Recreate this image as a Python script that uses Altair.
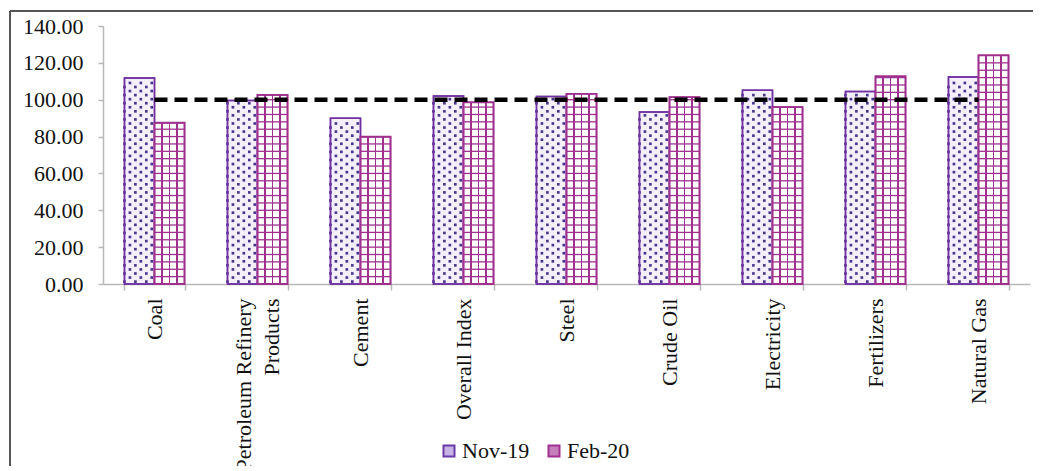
import altair as alt
import pandas as pd

categories = ["Coal", "Petroleum Refinery Products", "Cement", "Overall Index", "Steel",
              "Crude Oil", "Electricity", "Fertilizers", "Natural Gas"]
nov19 = [111.8, 99.6, 89.9, 102.0, 101.8, 93.4, 105.2, 104.4, 112.3]
feb20 = [87.5, 102.6, 79.9, 98.6, 103.2, 101.4, 96.0, 112.7, 124.1]
series = ["Nov-19", "Feb-20"]
reference = [100] * len(categories)
y_ticks = [0, 20, 40, 60, 80, 100, 120, 140]

PLOT_W, PLOT_H = 927, 258
SERIF = "Liberation Serif"
NOV_STROKE = "#7030a0"
NOV_FILL = "#f4effb"
NOV_DOT = "#45358f"
FEB_COLOR = "#a0308f"
AXIS_GRAY = "#b8b8b8"

# long-format bar table
bars = pd.DataFrame(
    [{"category": c, "series": "Nov-19", "value": v} for c, v in zip(categories, nov19)]
    + [{"category": c, "series": "Feb-20", "value": v} for c, v in zip(categories, feb20)]
)

# texture helpers (pattern decoration derived from the bar values)
sub_cols = [f"s{i}" for i in range(12)]
dot_rows = []
for c, v in zip(categories, nov19):
    lvl, r = 1.3, 0
    while lvl < v - 1.0:
        cols = [0, 2, 4] if r % 2 == 0 else [1, 3, 5]
        for k in cols:
            dot_rows.append({"category": c, "sub": f"s{k}", "level": lvl})
        lvl += 2.2
        r += 1
dots = pd.DataFrame(dot_rows)

grid_rows = []
for c, v in zip(categories, feb20):
    lvl = 4.0
    while lvl < v - 0.5:
        grid_rows.append({"category": c, "series": "Feb-20", "level": lvl})
        lvl += 4.0
grid = pd.DataFrame(grid_rows)

line_df = pd.DataFrame({"category": categories, "value": reference})

x_axis = alt.Axis(
    title=None, labelAngle=270, labelAlign="right", labelBaseline="middle",
    labelFont=SERIF, labelFontSize=22, labelColor="#111", labelPadding=8,
    labelLimit=0, labelOverlap=False, labelLineHeight=28,
    labelOffset={"condition": {"test": "datum.value == 'Petroleum Refinery Products'", "value": -14},
                 "value": 0},
    labelExpr="datum.label == 'Petroleum Refinery Products' ? ['Petroleum Refinery', 'Products'] : datum.label",
    tickBand="extent", tickSize=6, tickColor=AXIS_GRAY, tickWidth=1.5,
    domainColor=AXIS_GRAY, domainWidth=1.5, grid=False,
)
y_axis = alt.Axis(
    title=None, values=y_ticks, format=".2f", labelFont=SERIF, labelFontSize=22,
    labelColor="#111", labelPadding=15, tickSize=5, tickColor=AXIS_GRAY, tickWidth=1.5,
    domainColor=AXIS_GRAY, domainWidth=1.5, grid=False, labelFlush=False, labelOverlap=False,
)
x_scale = alt.Scale(domain=categories, paddingInner=0.417, paddingOuter=0.2085)
y_scale = alt.Scale(domain=[0, 140], nice=False)


def X():
    return alt.X("category:N", sort=categories, scale=x_scale, axis=x_axis)


def Y(field="value"):
    return alt.Y(f"{field}:Q", scale=y_scale, axis=y_axis)


off_scale = alt.Scale(domain=series, paddingInner=0, paddingOuter=0)


def legend():
    return alt.Legend(orient="none", legendX=335, legendY=414, direction="horizontal",
                      title=None, labelFont=SERIF, labelFontSize=22, labelColor="#111",
                      symbolType="square", symbolSize=121, symbolStrokeWidth=2,
                      symbolOpacity=1, labelOffset=2, columnPadding=13, padding=0,
                      labelLimit=0)


legend_layer = alt.Chart(bars).mark_square(opacity=0, size=4).encode(
    x=X(), y=Y(),
    xOffset=alt.XOffset("series:N", scale=off_scale),
    fill=alt.Fill("series:N", scale=alt.Scale(domain=series, range=["#c7b3e6", "#c77fbc"]),
                  legend=legend()),
    stroke=alt.Stroke("series:N", scale=alt.Scale(domain=series, range=["#6a3aa8", FEB_COLOR]),
                      legend=legend()),
)

nov_bars = alt.Chart(bars).transform_filter("datum.series == 'Nov-19'").mark_bar(
    fill=NOV_FILL, stroke=NOV_STROKE, strokeWidth=1.5
).encode(x=X(), y=Y(), xOffset=alt.XOffset("series:N", scale=off_scale))

dot_layer = alt.Chart(dots).mark_square(size=7, color=NOV_DOT, opacity=1).encode(
    x=X(), y=Y("level"),
    xOffset=alt.XOffset("sub:N", scale=alt.Scale(domain=sub_cols, paddingInner=0, paddingOuter=0)),
)

stripe_stops = [{"offset": 0, "color": "white"}]
for i in range(1, 4):
    o = i / 4
    stripe_stops += [
        {"offset": o - 0.025, "color": "white"},
        {"offset": o - 0.025, "color": FEB_COLOR},
        {"offset": o + 0.025, "color": FEB_COLOR},
        {"offset": o + 0.025, "color": "white"},
    ]
stripe_stops.append({"offset": 1, "color": "white"})
feb_gradient = alt.LinearGradient(gradient="linear", stops=stripe_stops, x1=0, x2=1, y1=0, y2=0)

feb_bars = alt.Chart(bars).transform_filter("datum.series == 'Feb-20'").mark_bar(
    fill=feb_gradient, stroke=FEB_COLOR, strokeWidth=1.5
).encode(x=X(), y=Y(), xOffset=alt.XOffset("series:N", scale=off_scale))

grid_layer = alt.Chart(grid).mark_tick(color=FEB_COLOR, thickness=1.3, size=30, opacity=1).encode(
    x=X(), y=Y("level"), xOffset=alt.XOffset("series:N", scale=off_scale),
)

feb_outline = alt.Chart(bars).transform_filter("datum.series == 'Feb-20'").mark_bar(
    fillOpacity=0, stroke=FEB_COLOR, strokeWidth=1.8
).encode(x=X(), y=Y(), xOffset=alt.XOffset("series:N", scale=off_scale))

nov_outline = alt.Chart(bars).transform_filter("datum.series == 'Nov-19'").mark_bar(
    fillOpacity=0, stroke=NOV_STROKE, strokeWidth=1.5
).encode(x=X(), y=Y(), xOffset=alt.XOffset("series:N", scale=off_scale))

ref_line = alt.Chart(line_df).mark_line(color="black", strokeWidth=4.5, strokeDash=[13, 7]).encode(
    x=X(), y=Y()
)

one = alt.Data(values=[{}])
frame_left = alt.Chart(one).mark_rule(color="#555", strokeWidth=2).encode(
    x=alt.value(-93), y=alt.value(-15), y2=alt.value(PLOT_H + 260))
frame_top = alt.Chart(one).mark_rule(color="#555", strokeWidth=2).encode(
    x=alt.value(-93), x2=alt.value(PLOT_W + 60), y=alt.value(-15))

chart = alt.layer(
    legend_layer, nov_bars, dot_layer, nov_outline, feb_bars, grid_layer, feb_outline,
    ref_line, frame_left, frame_top
).resolve_scale(xOffset="independent").properties(
    width=PLOT_W, height=PLOT_H,
    padding={"left": 95, "top": 18, "right": 3, "bottom": 182},
    autosize=alt.AutoSizeParams(type="none"),
).configure_view(stroke=None)

chart.save("out.html", embed_options={"renderer": "svg", "actions": False})
